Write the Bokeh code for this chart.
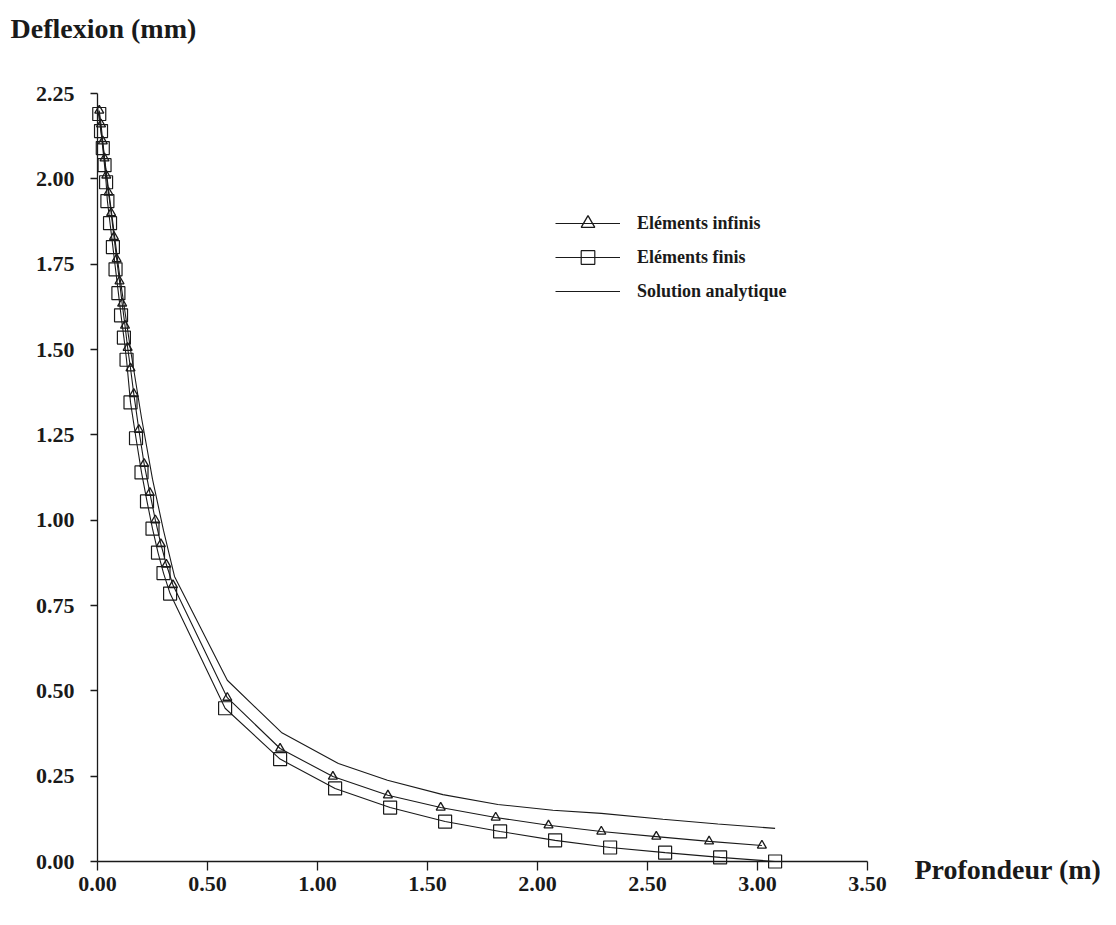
from bokeh.plotting import figure
from bokeh.models import (FixedTicker, NumeralTickFormatter, Label, Legend, LegendItem,
                          Range1d)
from bokeh.embed import file_html
from bokeh.resources import INLINE

# ---------------- data ----------------
# Eléments finis (squares)
fin_x = [0.008, 0.016, 0.024, 0.032, 0.039, 0.045, 0.057, 0.070, 0.082, 0.095, 0.107,
         0.120, 0.132, 0.150, 0.175, 0.200, 0.225, 0.250, 0.275, 0.300, 0.330,
         0.58, 0.83, 1.08, 1.33, 1.58, 1.83, 2.08, 2.33, 2.58, 2.83, 3.08]
fin_y = [2.19, 2.14, 2.09, 2.04, 1.99, 1.935, 1.87, 1.80, 1.735, 1.665, 1.60,
         1.535, 1.47, 1.345, 1.24, 1.14, 1.055, 0.975, 0.905, 0.845, 0.785,
         0.449, 0.300, 0.214, 0.158, 0.117, 0.088, 0.062, 0.041, 0.026, 0.012, 0.0]

# Eléments infinis (triangles)
inf_x = [0.008, 0.016, 0.024, 0.032, 0.040, 0.050, 0.062, 0.075, 0.087, 0.100, 0.112,
         0.125, 0.137, 0.150, 0.165, 0.188, 0.212, 0.238, 0.263, 0.288, 0.313, 0.343,
         0.59, 0.83, 1.07, 1.32, 1.56, 1.81, 2.05, 2.29, 2.54, 2.78, 3.02]
inf_y = [2.20, 2.16, 2.11, 2.06, 2.01, 1.96, 1.90, 1.83, 1.765, 1.70, 1.635,
         1.57, 1.505, 1.445, 1.37, 1.265, 1.165, 1.08, 1.00, 0.93, 0.87, 0.81,
         0.48, 0.331, 0.249, 0.194, 0.158, 0.129, 0.106, 0.088, 0.073, 0.059, 0.047]

# Solution analytique
ana_x = [0.0, 0.02, 0.05, 0.10, 0.15, 0.20, 0.25, 0.30, 0.35, 0.59, 0.836, 1.095,
         1.318, 1.57, 1.82, 2.07, 2.29, 2.57, 2.82, 3.08]
ana_y = [2.21, 2.12, 1.97, 1.72, 1.50, 1.30, 1.12, 0.97, 0.835, 0.531, 0.378, 0.287,
         0.238, 0.196, 0.167, 0.150, 0.141, 0.124, 0.110, 0.097]

x_ticks = [0.0, 0.5, 1.0, 1.5, 2.0, 2.5, 3.0, 3.5]
y_ticks = [0.0, 0.25, 0.5, 0.75, 1.0, 1.25, 1.5, 1.75, 2.0, 2.25]

x_title = "Profondeur (m)"
y_title = "Deflexion (mm)"
names = ["Eléments infinis", "Eléments finis", "Solution analytique"]

# ---------------- layout constants (pixels) ----------------
W, H = 1100, 905
X0_PX, Y0_PX = 97, 861          # pixel position of the data origin
PX_PER_X, PX_PER_Y = 220.0, 341.33

INK = "#1a1a1a"
SERIF = "Liberation Serif"

# the frame covers the whole canvas; the axes sit at the origin with limited bounds
p = figure(width=W, height=H, output_backend="svg", toolbar_location=None,
           x_range=Range1d(-X0_PX / PX_PER_X, (W - X0_PX) / PX_PER_X),
           y_range=Range1d(-(H - Y0_PX) / PX_PER_Y, Y0_PX / PX_PER_Y),
           min_border_left=0, min_border_right=0, min_border_top=0, min_border_bottom=0)
p.xgrid.visible = False
p.ygrid.visible = False
p.outline_line_color = None
p.background_fill_color = "white"

for ax in (p.xaxis[0], p.yaxis[0]):
    ax.fixed_location = 0
    ax.axis_line_color = INK
    ax.axis_line_width = 1.3
    ax.major_tick_line_color = INK
    ax.major_tick_line_width = 1.3
    ax.minor_tick_line_color = None
    ax.major_tick_in = 0
    ax.major_label_text_font = SERIF
    ax.major_label_text_font_style = "bold"
    ax.major_label_text_font_size = "22px"
    ax.major_label_text_color = INK
    ax.formatter = NumeralTickFormatter(format="0.00")

p.xaxis[0].ticker = FixedTicker(ticks=x_ticks)
p.yaxis[0].ticker = FixedTicker(ticks=y_ticks)
p.xaxis[0].bounds = (x_ticks[0], x_ticks[-1])
p.yaxis[0].bounds = (y_ticks[0], y_ticks[-1])
p.xaxis[0].major_tick_out = 9
p.xaxis[0].major_label_standoff = 6
p.yaxis[0].major_tick_out = 7
p.yaxis[0].major_label_standoff = 16

# series
l_ana = p.line(ana_x, ana_y, line_color=INK, line_width=1.1)
l_inf = p.line(inf_x, inf_y, line_color=INK, line_width=1.1)
l_fin = p.line(fin_x, fin_y, line_color=INK, line_width=1.1)
m_inf = p.scatter(inf_x, inf_y, marker="triangle", size=9, fill_alpha=0,
                  line_color=INK, line_width=1.3)
m_fin = p.scatter(fin_x, fin_y, marker="square", size=13, fill_alpha=0,
                  line_color=INK, line_width=1.2)

legend = Legend(items=[LegendItem(label=names[0], renderers=[l_inf, m_inf]),
                       LegendItem(label=names[1], renderers=[l_fin, m_fin]),
                       LegendItem(label=names[2], renderers=[l_ana])],
                location=(555, 597), orientation="vertical",
                glyph_width=65, glyph_height=34, spacing=0, padding=0, margin=0,
                label_standoff=17, label_text_font=SERIF, label_text_font_size="18px",
                label_text_font_style="bold", label_text_color=INK,
                border_line_color=None, background_fill_alpha=0)
p.add_layout(legend, "center")

# axis titles
p.add_layout(Label(x=(10 - X0_PX) / PX_PER_X, y=(Y0_PX - 28) / PX_PER_Y, text=y_title,
                   text_font=SERIF, text_font_style="bold", text_font_size="28px",
                   text_color=INK, text_baseline="middle", text_align="left"))
p.add_layout(Label(x=(914 - X0_PX) / PX_PER_X, y=(Y0_PX - 869) / PX_PER_Y, text=x_title,
                   text_font=SERIF, text_font_style="bold", text_font_size="28px",
                   text_color=INK, text_baseline="middle", text_align="left"))

open("out.html", "w").write(file_html(p, INLINE))
